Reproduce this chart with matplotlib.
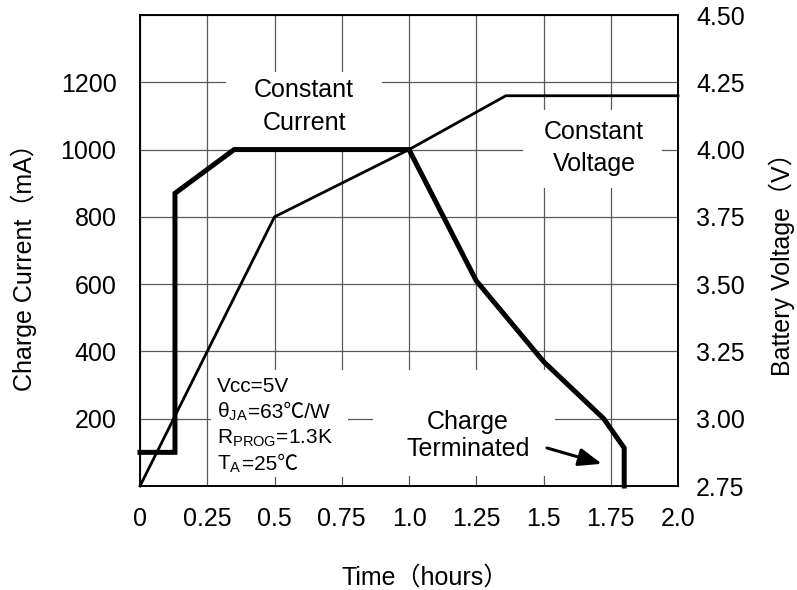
import matplotlib
matplotlib.use("Agg")
import matplotlib.pyplot as plt
from matplotlib.patches import Rectangle
from matplotlib.offsetbox import TextArea, HPacker, VPacker, AnnotationBbox

FAMILY = ['Liberation Sans', 'Noto Sans CJK SC', 'DejaVu Sans']
plt.rcParams['font.family'] = FAMILY
plt.rcParams['mathtext.fontset'] = 'custom'
plt.rcParams['mathtext.rm'] = 'Liberation Sans'
plt.rcParams['mathtext.it'] = 'Liberation Sans:italic'

# charge current (thick line, left axis)
current_t = [0, 0.13, 0.13, 0.35, 1.0, 1.25, 1.5, 1.724, 1.80, 1.80]
current_ma = [100, 100, 870, 1000, 1000, 610, 370, 200, 113, 0]

# battery voltage (thin line, right axis)
voltage_t = [0, 0.5, 1.0, 1.36, 2.0]
voltage_v = [2.75, 3.75, 4.0, 4.2, 4.2]

x_ticks = [0, 0.25, 0.5, 0.75, 1.0, 1.25, 1.5, 1.75, 2.0]
x_labels = ["0", "0.25", "0.5", "0.75", "1.0", "1.25", "1.5", "1.75", "2.0"]
left_ticks = [200, 400, 600, 800, 1000, 1200]
right_ticks = [2.75, 3.00, 3.25, 3.50, 3.75, 4.00, 4.25, 4.50]

# test conditions, each line split in pieces (mathtext parts kept apart from the ℃ parts)
conditions = [
    ["Vcc=5V"],
    [r"θ$_{\mathrm{JA}}$", "=63℃/W"],
    [r"R$_{\mathrm{PROG}}$=1.3K"],
    [r"T$_{\mathrm{A}}$", "=25℃"],
]

W, H = 797, 590
fig = plt.figure(figsize=(W / 100, H / 100), dpi=100)
ax = fig.add_axes([140 / W, 1 - 486 / H, 538 / W, 471 / H])

ax.set_xlim(0, 2.0)
ax.set_ylim(0, 1400)
ax.set_xticks(x_ticks)
ax.set_xticklabels(x_labels)
ax.set_yticks(left_ticks + [1400])
ax.set_yticklabels([str(v) for v in left_ticks] + [""])
ax.tick_params(axis="x", length=0, pad=15, labelsize=18)
ax.tick_params(axis="y", length=0, pad=17, labelsize=18)
ax.set_axisbelow(True)
ax.grid(True, color="0.35", lw=0.9)
for s in ax.spines.values():
    s.set_linewidth(1.2)

# white boxes behind the annotations (they cut the grid)
boxes = [
    (0.321, 1005, 0.899, 1230),
    (1.424, 886, 1.941, 1118),
    (0.264, 27, 0.773, 345),
    (0.866, 30, 1.543, 345),
]
for x0, y0, x1, y1 in boxes:
    ax.add_patch(Rectangle((x0, y0), x1 - x0, y1 - y0, facecolor="white",
                           edgecolor="none", zorder=1))

ax.plot(current_t, current_ma, color="black", lw=3.6, zorder=3,
        solid_joinstyle="miter", clip_on=False)

ax2 = ax.twinx()
ax2.set_ylim(2.75, 4.50)
ax2.set_yticks(right_ticks)
ax2.set_yticklabels([f"{v:.2f}" for v in right_ticks])
ax2.tick_params(axis="y", length=0, pad=13, labelsize=18)
for s in ax2.spines.values():
    s.set_linewidth(1.2)
ax2.plot(voltage_t, voltage_v, color="black", lw=2.0, zorder=3, clip_on=False)

ax.text(0.61, 1128, "Constant\nCurrent", ha="center", va="center", fontsize=18,
        linespacing=1.45, zorder=4)
ax.text(1.688, 1005, "Constant\nVoltage", ha="center", va="center", fontsize=18,
        linespacing=1.45, zorder=4)
ax.text(1.219, 150, "Charge\nTerminated", ha="center", va="center", fontsize=18,
        linespacing=1.2, zorder=4)

props = dict(fontsize=15, family=FAMILY)
rows = []
for parts in conditions:
    areas = [TextArea(p, textprops=props) for p in parts]
    rows.append(HPacker(children=areas, align="baseline", pad=0, sep=0))
block = VPacker(children=rows, align="left", pad=0, sep=3.5)
ab = AnnotationBbox(block, (0.286, 325), xycoords="data", box_alignment=(0, 1),
                    frameon=False, pad=0)
ab.set_zorder(4)
ax.add_artist(ab)

ax.annotate("", xy=(1.717, 66), xytext=(1.513, 113),
            arrowprops=dict(arrowstyle="-|>,head_length=0.7,head_width=0.27",
                            lw=2.2, color="black", mutation_scale=20,
                            shrinkA=0, shrinkB=0), zorder=4)

fig.text(24 / W, 1 - 391 / H, "Charge Current（mA）", rotation=90,
         ha="center", va="bottom", fontsize=18)
fig.text(782 / W, 1 - 376 / H, "Battery Voltage（V）", rotation=90,
         ha="center", va="bottom", fontsize=18)
fig.text(341 / W, 1 - 585 / H, "Time（hours）", ha="left", va="baseline",
         fontsize=18)

fig.savefig("out.png", dpi=100, facecolor="white")
